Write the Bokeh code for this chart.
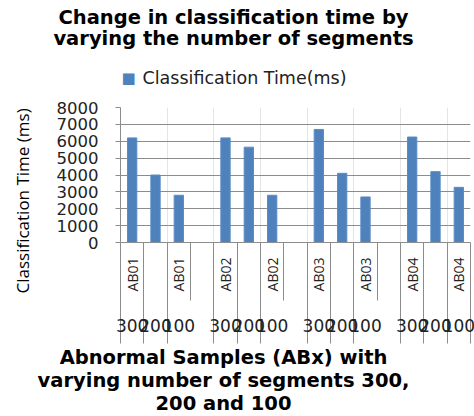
import math
from bokeh.plotting import figure
from bokeh.models import Range1d, LinearAxis, FixedTicker, ColumnDataSource
from bokeh.core.properties import value
from bokeh.embed import file_html
from bokeh.resources import INLINE

# ---- data ----
samples = ["AB01", "AB02", "AB03", "AB04"]
segments = ["300", "200", "100"]
classification_time = [6200, 4000, 2800,
                       6200, 5650, 2800,
                       6700, 4100, 2700,
                       6250, 4200, 3270]
y_ticks = [0, 1000, 2000, 3000, 4000, 5000, 6000, 7000, 8000]
title_lines = ["Change in classification time by", "varying the number of segments"]
x_title_lines = ["Abnormal Samples (ABx) with", "varying number of segments 300,", "200 and 100"]
y_title = "Classification Time (ms)"
series_name = "Classification Time(ms)"

BAR = "#4F81BD"
GRID = "#8c8c8c"
FONT = "DejaVu Sans"

# category slots: each sample's segments, with one empty slot between samples
grp = len(segments) + 1
n_slots = len(samples) * grp - 1
slot_x = [i * grp + j + 0.5 for i in range(len(samples)) for j in range(len(segments))]
slot_seg = [g for s in samples for g in segments]
gap_starts = [(i + 1) * grp - 1 for i in range(len(samples) - 1)]
major_bounds = [b for b in range(n_slots + 1) if b not in gap_starts]
y_top = y_ticks[-1]

p = figure(width=474, height=416, output_backend="svg", toolbar_location=None,
           x_range=Range1d(0, n_slots), y_range=Range1d(0, y_top),
           x_axis_location=None, title_location=None,
           min_border_left=120, min_border_right=4, min_border_top=107, min_border_bottom=174)
p.outline_line_color = None
p.background_fill_color = "white"
p.border_fill_color = "white"

src = ColumnDataSource(dict(x=slot_x, t=classification_time))
bars = p.vbar(x="x", top="t", width=0.4, source=src, fill_color=BAR, line_color="#5b8cc6")

# y axis
p.yaxis.ticker = FixedTicker(ticks=y_ticks)
p.yaxis.major_label_text_font = FONT
p.yaxis.major_label_text_font_size = "16.5px"
p.yaxis.major_label_text_color = "#222222"
p.yaxis.major_tick_out = 5
p.yaxis.major_tick_in = 0
p.yaxis.minor_tick_out = 0
p.yaxis.minor_tick_in = 0
p.yaxis.axis_line_color = GRID
p.yaxis.major_tick_line_color = GRID
p.yaxis.major_label_standoff = 17
p.ygrid.grid_line_color = GRID
p.ygrid.grid_line_width = 1.2

# x axis: category separators
xaxis = LinearAxis(ticker=FixedTicker(ticks=major_bounds, minor_ticks=gap_starts),
                   axis_line_color=GRID, major_tick_line_color=GRID, minor_tick_line_color=GRID,
                   major_tick_out=101, major_tick_in=0, minor_tick_out=58, minor_tick_in=0,
                   major_label_text_color=None, major_label_text_font_size="1px")
p.add_layout(xaxis, "below")

# category labels
p.text(x=slot_x, y=[0] * len(slot_x), text=slot_seg, y_offset=83,
       text_align="center", text_baseline="middle", text_font=value(FONT),
       text_font_size="17px", text_color="#222222", level="overlay")
ab_pos = [i * grp + 0.5 for i in range(len(samples))] + \
         [i * grp + len(segments) - 0.5 for i in range(len(samples))]
ab_txt = samples + samples
p.text(x=ab_pos, y=[0] * len(ab_pos), text=ab_txt, y_offset=15, angle=math.pi / 2,
       text_align="right", text_baseline="middle", text_font=value("Open Sans"),
       text_font_size="14px", text_color="#222222", level="overlay")

# legend (drawn above the frame)
p.text(x=[0], y=[y_top], text=["\u25a0"], x_offset=1, y_offset=-30,
       text_align="left", text_baseline="middle", text_font=value(FONT),
       text_font_size="15px", text_color=BAR, level="overlay")
p.text(x=[0], y=[y_top], text=[series_name], x_offset=22, y_offset=-30,
       text_align="left", text_baseline="middle", text_font=value(FONT),
       text_font_size="17.5px", text_color="#222222", level="overlay")

# chart title
p.text(x=[0, 0], y=[y_top, y_top], text=title_lines, x_offset=113, y_offset=[-90, -69],
       text_align="center", text_baseline="middle", text_font=value(FONT),
       text_font_style="bold", text_font_size="19.5px", text_color="black", level="overlay")
# x axis title
p.text(x=[0, 0, 0], y=[0, 0, 0], text=x_title_lines, x_offset=103, y_offset=[115, 138, 161],
       text_align="center", text_baseline="middle", text_font=value(FONT),
       text_font_style="bold", text_font_size="19.5px", text_color="black", level="overlay")
# y axis title
p.text(x=[0], y=[0], text=[y_title], x_offset=-98, y_offset=51, angle=math.pi / 2,
       text_align="left", text_baseline="middle", text_font=value("Open Sans"),
       text_font_size="17px", text_color="black", level="overlay")

open("out.html", "w").write(file_html(p, INLINE))
